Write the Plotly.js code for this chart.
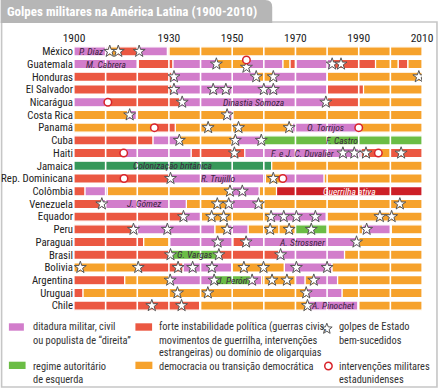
<!DOCTYPE html>
<html><head><meta charset="utf-8">
<script src="https://cdn.plot.ly/plotly-3.0.1.min.js"></script>
<style>html,body{margin:0;padding:0;background:#fff}#chart{width:438px;height:388px}</style>
</head><body><div id="chart"></div>
<script>
// ---------- DATA ----------
const countries = ['México','Guatemala','Honduras','El Salvador','Nicarágua','Costa Rica','Panamá','Cuba','Haiti','Jamaica','Rep. Dominicana','Colômbia','Venezuela','Equador','Peru','Paraguai','Brasil','Bolivia','Argentina','Uruguai','Chile'];
const tickYears = [1900,1930,1950,1970,1990,2010];
const gridYears = [1910,1920,1930,1940,1950,1960,1970,1980,1990,2000];

// segments: [start, end, regime, label]
// M = ditadura de direita, R = instabilidade, O = democracia, G = autoritário de esquerda,
// C = colonização, D = guerrilha ativa
const segMexico = [[1900,1910.5,'M','P. Díaz'],[1910.5,1913.8,'O'],[1913.8,1920.6,'R'],[1920.6,1929.5,'M'],[1929.5,2010,'O']];
const segGuatemala = [[1900,1920.3,'M','M. Cabrera'],[1920.3,1931.3,'R'],[1931.3,1945,'M'],[1945,1954.3,'O'],[1954.3,1966,'M'],[1966,1968.3,'O'],[1968.3,1970.2,'R'],[1970.2,1981.5,'M'],[1981.5,1995.3,'R'],[1995.3,2002.5,'O'],[2002.5,2005.5,'R'],[2005.5,2010,'O']];
const segHonduras = [[1900,1931,'R'],[1931,1957.5,'M'],[1957.5,1963,'O'],[1963,1980,'M'],[1980,2010,'O']];
const segElSalvador = [[1900,1931,'R'],[1931,1980,'M'],[1980,1991.5,'R'],[1991.5,2010,'O']];
const segNicaragua = [[1900,1910.5,'M'],[1910.5,1933.5,'R'],[1933.5,1979.7,'M','Dinastia Somoza'],[1979.7,1990,'R'],[1990,2010,'O']];
const segCostaRica = [[1900,1917,'O'],[1917,1919.7,'M'],[1919.7,1948.3,'O'],[1948.3,1950.2,'M'],[1950.2,2010,'O']];
const segPanama = [[1900,1925,'O'],[1925,1932,'R'],[1932,1969,'O'],[1969,1989.7,'M','O. Torrijos'],[1989.7,2010,'O']];
const segCuba = [[1900,1925,'R'],[1925,1933.5,'M'],[1933.5,1951,'O'],[1951,1959.5,'M'],[1959.5,2010,'G','F. Castro']];
const segHaiti = [[1900,1915.7,'R'],[1915.7,1937,'M'],[1937,1954,'R'],[1954,1990.7,'M','F. e J. C. Duvalier'],[1990.7,1996,'R'],[1996,2000,'O'],[2000,2010,'R']];
const segJamaica = [[1900,1962.5,'C','Colonização britânica'],[1962.5,2010,'O']];
const segRepDominicana = [[1900,1930.3,'R'],[1930.3,1960.5,'M','R. Trujillo'],[1960.5,1965.8,'O'],[1965.8,1979,'M'],[1979,2010,'O']];
const segColombia = [[1900,1903.5,'R'],[1903.5,1910.5,'M'],[1910.5,1950,'O'],[1950,1958.5,'M'],[1958.5,1964,'O'],[1964,2010,'D','Guerrilha ativa']];
const segVenezuela = [[1900,1908.7,'R'],[1908.7,1935.5,'M','J. Gómez'],[1935.5,1948.7,'O'],[1948.7,1958.5,'M'],[1958.5,2010,'O']];
const segEquador = [[1900,1934.5,'R'],[1934.5,1940.2,'M'],[1940.2,1962,'O'],[1962,1979.7,'M'],[1979.7,2010,'O']];
const segPeru = [[1900,1918.7,'R'],[1918.7,1944.5,'M'],[1944.5,1948.5,'O'],[1948.5,1955,'M'],[1955,1964.8,'O'],[1964.8,1970,'O'],[1970,1980.3,'G'],[1980.3,1991.3,'O'],[1991.3,2000.3,'M'],[2000.3,2010,'O']];
const segParaguai = [[1900,1922,'R'],[1922,1930.3,'O'],[1930.3,1950.2,'M'],[1950.2,1954.5,'R'],[1954.5,1989.5,'M','A. Strossner'],[1989.5,2010,'O']];
const segBrasil = [[1900,1930.5,'R'],[1930.5,1945.8,'G','G. Vargas'],[1945.8,1964.8,'R'],[1964.8,1985.5,'M'],[1985.5,2010,'O']];
const segBolivia = [[1900,1920.7,'O'],[1920.7,1934.5,'R'],[1934.5,1949.8,'M'],[1949.8,1966.5,'O'],[1966.5,1981.5,'M'],[1981.5,2010,'O']];
const segArgentina = [[1900,1916,'R'],[1916,1930.4,'O'],[1930.4,1944.3,'M'],[1944.3,1955.8,'G','J. Perón'],[1955.8,1959.3,'M'],[1959.3,1970,'O'],[1970,1973,'M'],[1973,1976,'O'],[1976,1983.3,'M'],[1983.3,2010,'O']];
const segUruguai = [[1900,1902.8,'R'],[1902.8,1973.5,'O'],[1973.5,1984.7,'M'],[1984.7,2010,'O']];
const segChile = [[1900,1939.7,'R'],[1939.7,1973.8,'O'],[1973.8,1989.7,'M','A. Pinochet'],[1989.7,2010,'O']];
const segments = [segMexico,segGuatemala,segHonduras,segElSalvador,segNicaragua,segCostaRica,segPanama,segCuba,segHaiti,segJamaica,segRepDominicana,segColombia,segVenezuela,segEquador,segPeru,segParaguai,segBrasil,segBolivia,segArgentina,segUruguai,segChile];

// golpes de Estado bem-sucedidos
const coupCountry = ['México','México','México',
 'Guatemala','Guatemala','Guatemala','Guatemala',
 'Honduras','Honduras','Honduras','Honduras',
 'El Salvador','El Salvador','El Salvador','El Salvador','El Salvador',
 'Nicarágua','Nicarágua','Costa Rica','Costa Rica',
 'Panamá','Panamá','Panamá','Cuba','Cuba','Cuba',
 'Haiti','Haiti','Haiti','Haiti','Haiti',
 'Rep. Dominicana','Rep. Dominicana','Colômbia','Colômbia',
 'Venezuela','Venezuela','Venezuela','Venezuela','Venezuela',
 'Equador','Equador','Equador','Equador','Equador','Equador','Equador','Equador','Equador',
 'Peru','Peru','Peru','Peru','Peru','Peru','Peru',
 'Paraguai','Paraguai','Paraguai','Brasil','Brasil','Brasil',
 'Bolivia','Bolivia','Bolivia','Bolivia','Bolivia','Bolivia','Bolivia','Bolivia','Bolivia',
 'Argentina','Argentina','Argentina','Argentina','Argentina','Argentina',
 'Uruguai','Uruguai','Uruguai','Chile','Chile','Chile'];
const coupYear = [1911.3,1914,1920.6,
 1945,1954.5,1981.6,1984.4,
 1931.6,1957.6,1963,2009,
 1931.6,1944,1948,1960,1963,
 1934.2,1979.6,1917.6,1948.4,
 1942.4,1952,1968,1933.3,1951,1959.2,
 1950.7,1985,1988.6,1992.3,2003.4,
 1930.5,1963,1949.3,1953.2,
 1908.8,1945.3,1948.9,1958.3,2003,
 1934.6,1943.5,1947.3,1962.3,1966.3,1970.3,1976.3,1996.7,2000.4,
 1918.8,1929.5,1948.4,1962,1968,1975,1992.5,
 1945.4,1954.4,1989.3,1930.5,1945.8,1965.3,
 1902,1920.3,1932.9,1937.5,1943.6,1953.7,1959.9,1970.3,1980,
 1930.4,1944.3,1956.3,1962.6,1967.3,1975.8,
 1932.7,1942.3,1973.4,1924.6,1934,1973.8];

// intervenções militares estadunidenses
const usCountry = ['Nicarágua','Panamá','Panamá','Haiti','Haiti','Rep. Dominicana','Rep. Dominicana','Guatemala'];
const usYear = [1910.7,1925.4,1990,1915.7,1996.2,1915.8,1966,1954.5];

// ---------- STYLE / LAYOUT HELPERS ----------
const W = 438, H = 388;
const L = 73.5, R = 16, T = 45, B = 76;
const PW = W - L - R, PH = H - T - B;
const X0 = 1900, X1 = 2010;
const NR = countries.length;
const px2x = px => (px - L) / PW;              // paper x
const py2y = py => 1 - (py - T) / PH;          // paper y

const FONT = '"Roboto Condensed","DejaVu Sans Condensed",sans-serif';
const COL = {M:'#d27dcb', R:'#eb5842', O:'#f6a22c', G:'#6bbd45', C:'#36985a', D:'#cd1f27'};
const ORDER = ['C','D','O','R','M','G'];
const STAR_LINE = '#555555', CIRC_LINE = '#d8232a';

const traces = [];
ORDER.forEach(t => {
  const ys=[], bs=[], xs=[];
  segments.forEach((segs,i) => segs.forEach(s => {
    if (s[2] === t) { ys.push(i); bs.push(s[0]); xs.push(s[1]-s[0]); }
  }));
  traces.push({type:'bar', orientation:'h', y:ys, base:bs, x:xs, width:0.72,
    marker:{color:COL[t], line:{color:'#ffffff', width:1.2}}, hoverinfo:'skip', showlegend:false});
});

// decade grid lines drawn over bars (white)
const gx=[], gy=[];
gridYears.forEach(g => { gx.push(g,g,null); gy.push(-0.5, NR-0.5, null); });
traces.push({type:'scatter', mode:'lines', x:gx, y:gy, line:{color:'#ffffff', width:1.6}, hoverinfo:'skip', showlegend:false});

// offsets where a star and a circle coincide
const near = (c1,y1,c2,y2) => c1===c2 && Math.abs(y1-y2) < 1;
const starY = coupYear.map((y,i) => {
  const idx = countries.indexOf(coupCountry[i]);
  const clash = usYear.some((u,j) => near(usCountry[j],u,coupCountry[i],y));
  return idx + (clash ? 0.25 : 0);
});
const circY = usYear.map((y,i) => {
  const idx = countries.indexOf(usCountry[i]);
  const clash = coupYear.some((c,j) => near(coupCountry[j],c,usCountry[i],y));
  return idx + (clash ? -0.33 : 0);
});
traces.push({type:'scatter', mode:'markers', x:coupYear, y:starY,
  marker:{symbol:'star', size:9, color:'#ffffff', line:{color:STAR_LINE, width:1}}, hoverinfo:'skip', showlegend:false});
traces.push({type:'scatter', mode:'markers', x:usYear, y:circY,
  marker:{symbol:'circle', size:7.5, color:'#ffffff', line:{color:CIRC_LINE, width:1.5}}, hoverinfo:'skip', showlegend:false});

// ---------- annotations ----------
const annotations = [];
segments.forEach((segs,i) => segs.forEach(s => {
  if (s[3]) annotations.push({x:(s[0]+s[1])/2, y:i, xref:'x', yref:'y', text:'<i>'+s[3]+'</i>', showarrow:false,
    font:{family:FONT, size:9.5, color: s[2]==='D' ? '#ffffff' : '#3a2440'}});
}));
const legendText = [
  [30,326.7,'ditadura militar, civil'],[30,340,'ou populista de “direita”'],
  [30,366,'regime autoritário'],[30,379,'de esquerda'],
  [156.7,326.7,'forte instabilidade política (guerras civis,'],[156.7,340,'movimentos de guerrilha, intervenções'],
  [156.7,352.8,'estrangeiras) ou domínio de oligarquias'],[156.7,366,'democracia ou transição democrática'],
  [337.3,326.7,'golpes de Estado'],[337.3,340,'bem-sucedidos'],
  [337.3,366,'intervenções militares'],[337.3,379,'estadunidenses']
];
legendText.forEach(l => annotations.push({x:px2x(l[0]), y:py2y(l[1]), xref:'paper', yref:'paper', xanchor:'left', yanchor:'middle',
  text:l[2], showarrow:false, font:{family:FONT, size:10.4, color:'#333333'}}));

// ---------- shapes ----------
const rectP = (x0,y0,x1,y1,color) => ({type:'rect', xref:'paper', yref:'paper', x0:px2x(x0), x1:px2x(x1), y0:py2y(y1), y1:py2y(y0),
  fillcolor:color, line:{width:0}, layer:'below'});
const starPath = (cx,cy,ro,ri) => {
  let p = '';
  for (let k=0;k<10;k++){
    const a = -Math.PI/2 + k*Math.PI/5, r = k%2 ? ri : ro;
    p += (k?' L ':'M ') + px2x(cx + r*Math.cos(a)) + ',' + py2y(cy + r*Math.sin(a));
  }
  return p + ' Z';
};
const shapes = [
  {type:'rect', xref:'paper', yref:'paper', x0:px2x(1), x1:px2x(437), y0:py2y(387), y1:py2y(22), line:{color:'#c6c6c6', width:1.6}, fillcolor:'rgba(0,0,0,0)', layer:'below'},
  {type:'path', xref:'paper', yref:'paper', layer:'below', fillcolor:'#b6b6b6', line:{width:0},
   path:`M ${px2x(0)},${py2y(23)} L ${px2x(0)},${py2y(0)} L ${px2x(265)},${py2y(0)} Q ${px2x(272)},${py2y(0)} ${px2x(272)},${py2y(7)} L ${px2x(272)},${py2y(23)} Z`},
  rectP(8.3,323.3,23.3,330.7,COL.M), rectP(135,323.3,151.7,330.7,COL.R),
  rectP(8.3,361.7,25,369,COL.G), rectP(135,361.7,152,369,COL.O),
  // legend symbols
  {type:'path', xref:'paper', yref:'paper', layer:'above', path:starPath(326.7,328.8,5.6,2.4), fillcolor:'#ffffff', line:{color:STAR_LINE, width:1}},
  {type:'circle', xref:'paper', yref:'paper', layer:'above', x0:px2x(324.6), x1:px2x(332), y0:py2y(369.7), y1:py2y(362.3), fillcolor:'#ffffff', line:{color:CIRC_LINE, width:1.5}}
];

const layout = {
  width:W, height:H, margin:{l:L, r:R, t:T, b:B, pad:0},
  paper_bgcolor:'#ffffff', plot_bgcolor:'#ffffff', barmode:'overlay', showlegend:false,
  title:{text:'Golpes militares na América Latina (1900-2010)', xref:'container', yref:'container', x:7/W, xanchor:'left', y:1-11.5/H, yanchor:'middle',
    font:{family:FONT, size:13, color:'#ffffff', weight:700}},
  xaxis:{range:[X0,X1], side:'top', tickvals:tickYears, ticktext:tickYears.map(String), showgrid:false, zeroline:false, showline:false, ticks:'',
    tickfont:{family:FONT, size:11.5, color:'#222222'}, fixedrange:true},
  yaxis:{range:[NR-0.5,-0.5], tickvals:countries.map((c,i)=>i), ticktext:countries, showgrid:false, zeroline:false, showline:false, ticks:'',
    tickfont:{family:FONT, size:10.8, color:'#222222'}, fixedrange:true},
  annotations, shapes
};
Plotly.newPlot('chart', traces, layout, {displayModeBar:false, staticPlot:true});
</script></body></html>
